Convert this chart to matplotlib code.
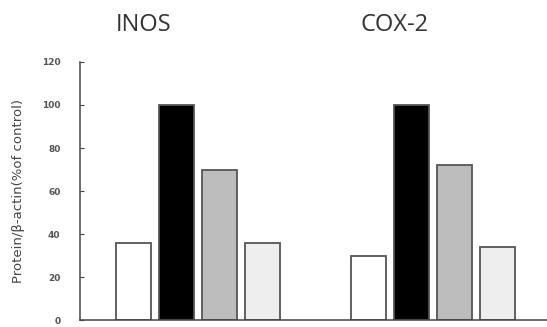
import matplotlib
matplotlib.use("Agg")
import matplotlib.pyplot as plt
import numpy as np

# Protein levels normalised to beta-actin, % of control
groups = ["INOS", "COX-2"]
inos_values = [36, 100, 70, 36]
cox2_values = [30, 100, 72, 34]
y_ticks = [0, 20, 40, 60, 80, 100, 120]

bar_colors = ["#ffffff", "#000000", "#bdbdbd", "#eeeeee"]
edge_color = "#555555"

fig = plt.figure(figsize=(5.47, 3.27), dpi=100)
ax = fig.add_axes([0.146, 0.0214, 0.854, 0.789])

group_centers = [0.0, 5.6]
offsets = np.array([-1.5, -0.5, 0.5, 1.5]) * 1.02
width = 0.83

for center, vals in zip(group_centers, [inos_values, cox2_values]):
    ax.bar(center + offsets, vals, width=width, color=bar_colors,
           edgecolor=edge_color, linewidth=1.3, zorder=2)

ax.set_xlim(-2.81, 8.31)
ax.set_ylim(0, 120)
ax.set_yticks(y_ticks)
ax.set_yticklabels([str(t) for t in y_ticks], fontsize=6.5, color="#555555",
                   fontweight="bold")
ax.set_xticks([])
ax.tick_params(axis="y", direction="in", length=3, width=0.8, pad=14, colors="#444444")
ax.tick_params(axis="y", labelcolor="#555555")

for side in ["top", "right"]:
    ax.spines[side].set_visible(False)
for side in ["left", "bottom"]:
    ax.spines[side].set_color("#444444")
    ax.spines[side].set_linewidth(1.1)

ax.set_ylabel("Protein/β-actin(%of control)", fontsize=9.5, color="#444444",
              labelpad=12)

title_x = [-1.29, 4.69]
for x, name in zip(title_x, groups):
    ax.text(x, 1.143, name, transform=ax.get_xaxis_transform(),
            ha="center", va="center", fontsize=17, color="#333333",
            family="Open Sans")

fig.savefig("out.png", dpi=100)
